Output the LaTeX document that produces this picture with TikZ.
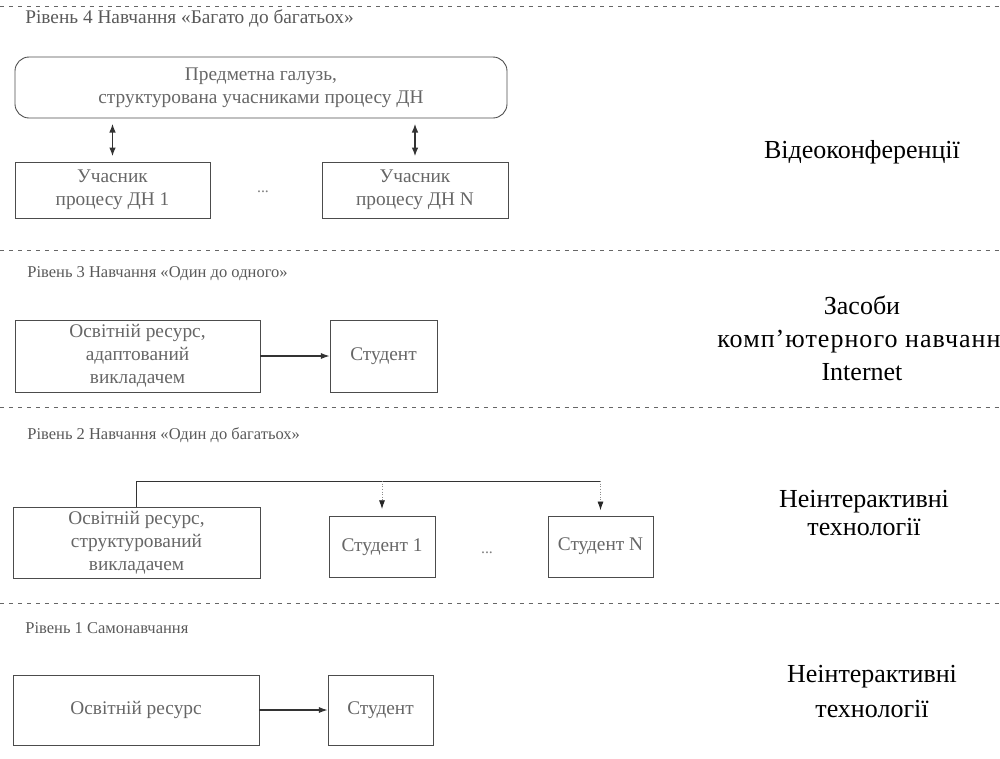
\documentclass[tikz,border=0pt]{standalone}
\usepackage{fontspec}
\setmainfont{Liberation Serif}
\usetikzlibrary{arrows.meta}
\begin{document}
\begin{tikzpicture}[x=0.02cm,y=-0.02cm,
  bx/.style 2 args={draw=black!70, line width=0.5pt, minimum width=#1*0.02cm, minimum height=#2*0.02cm,
    inner sep=0pt, align=center, font=\fontsize{11}{13}\selectfont, text=black!60},
  lvltitle/.style={anchor=west, inner sep=0pt, font=\fontsize{9.4}{11}\selectfont, text=black!65},
  side/.style={inner sep=0pt, font=\fontsize{14.8}{17}\selectfont, text=black},
  sep/.style={draw=black!60, line width=0.5pt, dash pattern=on 2.3pt off 2.8pt},
  conn/.style={draw=black!80, line width=0.6pt},
  tip/.style={-{Latex[length=5pt,width=3.5pt]}},
  dtip/.style={{Latex[length=5pt,width=3.8pt]}-{Latex[length=5pt,width=3.8pt]}},
  drop/.style={draw=black!45, line width=0.5pt, densely dotted, -{Latex[length=5pt,width=3.5pt,color=black!85]}},
  dots/.style={inner sep=0pt, font=\fontsize{9}{10}\selectfont, text=black!50}
]
\useasboundingbox (0,0) rectangle (1000,758);
\clip (0,0) rectangle (1000,758);

% separators
\coordinate (sepA0) at (0,6);   \coordinate (sepA1) at (1000,6);
\coordinate (sepB0) at (0,250); \coordinate (sepB1) at (1000,250);
\coordinate (sepC0) at (0,407); \coordinate (sepC1) at (1000,407);
\coordinate (sepD0) at (0,603); \coordinate (sepD1) at (1000,603);
\draw[sep] (sepA0) -- (sepA1);
\draw[sep] (sepB0) -- (sepB1);
\draw[sep] (sepC0) -- (sepC1);
\draw[sep] (sepD0) -- (sepD1);

% ---------- Level 4 ----------
\node[lvltitle, font=\fontsize{11}{13}\selectfont] (t4) at (25,18) {Рівень 4 Навчання «Багато до багатьох»};
\node[bx={492}{61}, rounded corners=8pt] (dom) at (261,87.5)
  {Предметна галузь,\\структурована учасниками процесу ДН};
\node[bx={195}{56}] (u1) at (112.5,190) {Учасник\\процесу ДН 1};
\node[bx={186}{56}] (uN) at (415,190) {Учасник\\процесу ДН N};
\node[dots] (d4) at (263,192) {...};
\draw[conn,line width=0.8pt,dtip,shorten <=3pt,shorten >=3pt] (dom.south -| u1.north) -- (u1.north);
\draw[conn,line width=0.8pt,dtip,shorten <=3pt,shorten >=3pt] (dom.south -| uN.north) -- (uN.north);
\node[side] (v4) at (862,152) {Відеоконференції};

% ---------- Level 3 ----------
\node[lvltitle] (t3) at (27,274) {Рівень 3 Навчання «Один до одного»};
\node[bx={245}{72}] (r3) at (137.5,356) {Освітній ресурс,\\адаптований\\викладачем};
\node[bx={107}{72}] (s3) at (383.5,356) {Студент};
\draw[conn,tip] (r3.east) -- (s3.west);
\node[side] (v3a) at (862,305) {Засоби};
\node[side,anchor=west,font=\fontsize{14.8}{17}\selectfont\addfontfeature{LetterSpace=4}] (v3b) at (717,342) {комп’ютерного навчання};
\node[side] (v3c) at (862,372) {Internet};

% ---------- Level 2 ----------
\node[lvltitle] (t2) at (27,435) {Рівень 2 Навчання «Один до багатьох»};
\node[bx={247}{71}] (r2) at (136.5,542.5) {Освітній ресурс,\\структурований\\викладачем};
\node[bx={106}{61}] (s21) at (382,547) {Студент 1};
\node[bx={105}{61}] (s2N) at (600.5,546.5) {Студент N};
\node[dots] (d2) at (487,553) {...};
\coordinate (bus) at (0,481);
\draw[conn,line width=0.5pt] (r2.north) |- (bus -| s2N.north);
\draw[drop,shorten >=4pt] (bus -| s21.north) -- (s21.north);
\draw[drop,shorten >=3pt] (bus -| s2N.north) -- (s2N.north);
\node[side] (v2a) at (864,502) {Неінтерактивні};
\node[side] (v2b) at (864,527) {технології};

% ---------- Level 1 ----------
\node[lvltitle] (t1) at (25,628) {Рівень 1 Самонавчання};
\node[bx={246}{70}] (r1) at (136,710) {Освітній ресурс};
\node[bx={105}{70}] (s1) at (380.5,710) {Студент};
\draw[conn,tip] (r1.east) -- (s1.west);
\node[side] (v1a) at (872,677) {Неінтерактивні};
\node[side] (v1b) at (872,709) {технології};
\end{tikzpicture}
\end{document}
